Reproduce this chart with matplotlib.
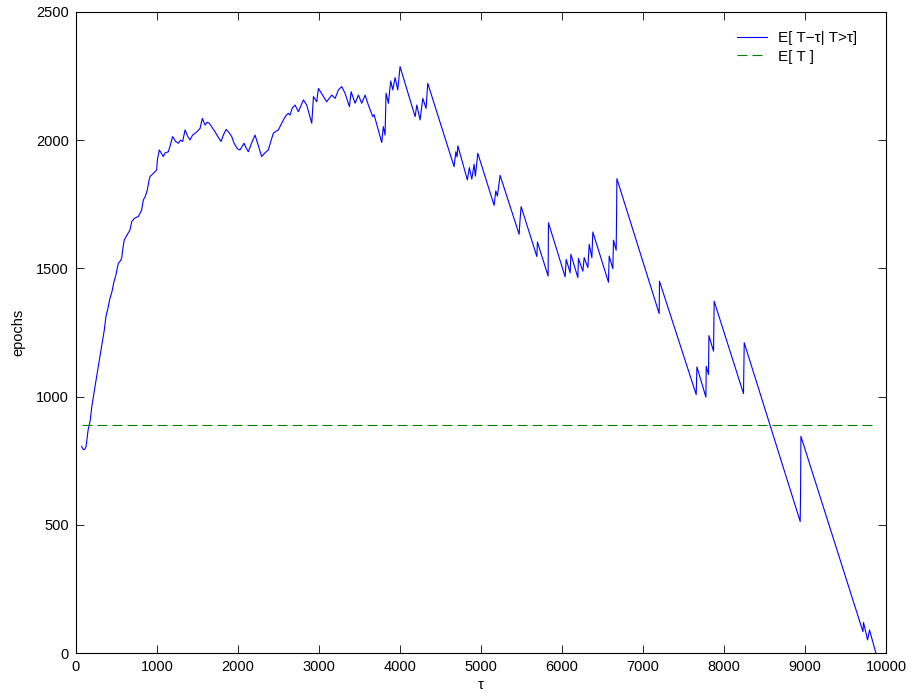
import matplotlib
matplotlib.use("Agg")
import matplotlib.pyplot as plt
import numpy as np

plt.rcParams['font.family'] = ['Liberation Sans', 'DejaVu Sans']

# E[T - tau | T > tau] (tau, epochs)
tau = [70, 90, 110, 125, 150, 175, 195, 225, 255, 296, 320, 337, 350, 370, 395, 420,
       445, 469, 490, 523, 545, 564, 580, 597, 630, 667, 688, 720, 750, 770, 790, 811,
       832, 855, 881, 900, 914, 940, 976, 996, 1005, 1029,
       1079, 1100, 1140, 1160, 1193, 1230, 1264, 1290, 1317, 1347, 1380, 1408, 1440,
       1470, 1500, 1532, 1560, 1594, 1620, 1647, 1680, 1717, 1750, 1791, 1820, 1853,
       1890, 1923, 1950, 1976, 2000, 2025, 2050, 2075, 2100, 2128, 2170, 2211, 2250,
       2293, 2330, 2375, 2410, 2437, 2470, 2499, 2530, 2561, 2590, 2622, 2643, 2670,
       2705, 2746, 2808, 2849, 2911, 2932, 2972, 2993, 3055, 3095, 3158, 3199, 3240,
       3281, 3322, 3376, 3397, 3446, 3487, 3528, 3570, 3610, 3664, 3680, 3775, 3795,
       3816, 3828, 3857, 3886, 3911, 3940, 3973, 4001,
       4187, 4208, 4248, 4282, 4322, 4343, 4668, 4690, 4705, 4715, 4832, 4857, 4887,
       4915, 4931, 4961, 5162, 5183, 5203, 5236, 5471, 5483, 5496, 5690, 5697, 5829,
       5833, 6039, 6052, 6101, 6110, 6196, 6203, 6258, 6274, 6320, 6336, 6369, 6381,
       6574, 6583, 6628, 6636, 6669, 6674, 6678, 7200, 7204, 7657, 7666, 7777, 7781,
       7809, 7814, 7871, 7879, 8241, 8250, 8941, 8946, 8950, 9716, 9723, 9773, 9797,
       9875]
residual = [806, 793, 795, 806, 870, 905, 960, 1020, 1078, 1156, 1200, 1234, 1260, 1312,
            1345, 1383, 1410, 1448, 1470, 1520, 1528, 1539, 1580, 1611, 1630, 1650, 1682,
            1695, 1700, 1702, 1715, 1728, 1767, 1780, 1806, 1840, 1858, 1866, 1877, 1884,
            1923, 1962,
            1936, 1950, 1955, 1975, 2014, 1995, 1988, 2000, 1995, 2040, 2015, 2001, 2020,
            2027, 2035, 2046, 2085, 2059, 2070, 2066, 2050, 2033, 2015, 1995, 2020, 2042,
            2030, 2014, 1990, 1975, 1965, 1962, 1975, 1988, 1970, 1955, 1990, 2020, 1980,
            1936, 1950, 1962, 2000, 2027, 2035, 2040, 2060, 2079, 2095, 2105, 2098, 2125,
            2137, 2111, 2157, 2137, 2066, 2170, 2150, 2202, 2170, 2150, 2176, 2163, 2196,
            2209, 2183, 2131, 2189, 2144, 2176, 2144, 2176, 2137, 2092, 2100, 1991, 2053,
            2020, 2183, 2144, 2231, 2196, 2244, 2196, 2287,
            2092, 2137, 2079, 2163, 2124, 2222, 1897, 1955, 1935, 1978, 1845, 1893, 1848,
            1906, 1860, 1949, 1746, 1802, 1782, 1863, 1633, 1691, 1741, 1546, 1603, 1470,
            1678, 1467, 1535, 1483, 1555, 1464, 1539, 1489, 1542, 1503, 1594, 1542, 1642,
            1446, 1548, 1499, 1610, 1571, 1699, 1850, 1324, 1450, 1008, 1116, 998, 1118,
            1086, 1238, 1177, 1372, 1012, 1210, 513, 637, 845, 83, 119, 51, 90,
            0]

# E[T], horizontal reference
mean_T = 890
mean_T_span = [70, 9840]

fig = plt.figure(figsize=(9.13, 6.93), dpi=100)
ax = fig.add_axes([0.0832, 0.0577, 0.8872, 0.925])

ax.plot(tau, residual, color='#0000ff', lw=0.8, label='E[ T\u2212\u03c4| T>\u03c4]')
ax.plot(mean_T_span, [mean_T, mean_T], color='#007f00', lw=0.8,
        dashes=(9, 4.5), label='E[ T ]')

ax.set_xlim(0, 10000)
ax.set_ylim(0, 2500)
ax.set_xticks(np.arange(0, 10001, 1000))
ax.set_yticks(np.arange(0, 2501, 500))
ax.tick_params(direction='in', top=True, right=True, length=6, width=0.6,
               labelsize=10.5, pad=5)
for s in ax.spines.values():
    s.set_linewidth(0.8)

ax.set_ylabel('epochs', fontsize=10.5, labelpad=8)
ax.set_xlabel('\u03c4', fontsize=10.5, labelpad=3)

ax.legend(loc='upper right', bbox_to_anchor=(0.972, 0.98), frameon=False,
          fontsize=11, handlelength=2.0, borderaxespad=0,
          labelspacing=0.3, handletextpad=0.7)

fig.savefig('out.png', dpi=100)
